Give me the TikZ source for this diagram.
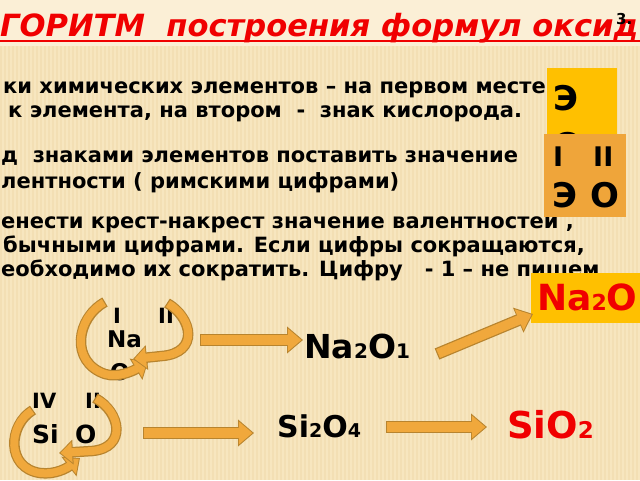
\documentclass[tikz,border=0pt]{standalone}
\usepackage{fontspec}
\setmainfont{DejaVu Sans}
\usetikzlibrary{arrows.meta}
\definecolor{bgc}{HTML}{F7E6BF}
\definecolor{topc}{HTML}{FBEFD6}
\definecolor{stripec}{HTML}{F3DFB4}
\definecolor{ybox}{HTML}{FFC000}
\definecolor{obox}{HTML}{EFA53A}
\definecolor{afill}{HTML}{F0A83C}
\definecolor{adark}{HTML}{B8842E}
\definecolor{redt}{HTML}{F00000}
\newcommand\lowdig[2]{{\fontsize{#1}{#1}\selectfont #2}}
\begin{document}
\begin{tikzpicture}[x=1pt,y=-1pt,
  txt/.style={anchor=base west, inner sep=0pt, font=\bfseries\fontsize{21}{22}\selectfont},
  big/.style={anchor=base west, inner sep=0pt, font=\bfseries\fontsize{#1}{#1}\selectfont},
  bout/.style={line width=12pt, draw=adark, -{Triangle[width=26pt,length=16pt]}},
  bin/.style={line width=9.5pt, draw=afill, shorten >=1.6pt, shorten <=1.2pt, -{Triangle[width=22pt,length=13.5pt]}},
  cout/.style={line width=10.5pt, draw=adark, -{Triangle[width=24pt,length=14pt]}},
  cin/.style={line width=8pt, draw=afill, shorten >=1.5pt, shorten <=1.2pt, -{Triangle[width=20pt,length=11.5pt]}}]
\useasboundingbox (0,0) rectangle (640,480);
% background
\fill[bgc] (0,0) rectangle (640,480);
\fill[topc] (0,0) rectangle (640,46);
\foreach \i in {0,4,...,636} \fill[stripec] (\i,46) rectangle ++(2,434);
% title
\node[anchor=base west, inner sep=0pt, text=redt, font=\bfseries\itshape\fontsize{30.6}{31}\selectfont] (title) at (0,36) {ГОРИТМ\ \ построения формул оксид};
\draw[redt, line width=1.5pt] (0,41) -- (640,41);
\node[anchor=base west, inner sep=0pt, font=\bfseries\fontsize{15}{15}\selectfont] (pnum) at (616,24) {3.};
% body text
\node[txt] (l1) at (3,93) {ки химических элементов – на первом месте};
\node[txt] (l2) at (8,117) {к элемента, на втором\ \ -\ \ знак кислорода.};
\node[txt] (l3) at (1,162) {д\ \ знаками элементов поставить значение};
\node[txt] (l4) at (1,188) {лентности ( римскими цифрами)};
\node[txt] (l5) at (1,228) {енести крест-накрест значение валентностей ,};
\node[txt] (l6) at (3,252) {бычными цифрами. Если цифры сокращаются,};
\node[txt] (l7) at (1,276) {еобходимо их сократить. Цифру\ \ \ - 1 – не пишем};
% yellow box E O
\fill[ybox] (547,68) rectangle (617,150);
\node[big=34] (ye) at (553,110) {Э};
\node[big=34] (yo) at (553,157) {О};
% orange box
\fill[obox] (544,134) rectangle (626,217);
\node[big=27] (r1) at (553,166) {I};
\node[big=27] (r2) at (593,166) {II};
\node[big=34] (be) at (552,207) {Э};
\node[big=34] (bo) at (590,207) {О};
% Na2O box
\fill[ybox] (531,273) rectangle (640,323);
\node[big=36, text=redt] (na2o) at (537,310) {Na\lowdig{22}{2}O};
% middle row
\node[big=21] (ni) at (113,323) {I};
\node[big=21] (nii) at (158,323) {II};
\node[big=23] (na) at (107,347) {Na};
\node[big=23] (no) at (110,380) {O};
\draw[cout] (105,302) .. controls (76,318) and (70,362) .. (105,374) .. controls (118,378) and (133,371) .. (148,362);
\draw[cin] (105,302) .. controls (76,318) and (70,362) .. (105,374) .. controls (118,378) and (133,371) .. (148,362);
\draw[cout] (167,303) .. controls (193,318) and (199,353) .. (162,356) -- (133,359);
\draw[cin] (167,303) .. controls (193,318) and (199,353) .. (162,356) -- (133,359);
\node[big=33] (na2o1) at (304,358) {Na\lowdig{20}{2}O\lowdig{20}{1}};
\coordinate (a1s) at (200,340);
\coordinate (a1e) at (303,340);
\draw[bout] (a1s) -- (a1e);
\draw[bin] (a1s) -- (a1e);
\coordinate (a2s) at (437,354);
\coordinate (a2e) at (533,314);
\draw[bout] (a2s) -- (a2e);
\draw[bin] (a2s) -- (a2e);
% bottom row
\node[big=21] (siv) at (32,408) {IV};
\node[big=21] (sii) at (85,408) {II};
\node[big=25] (si) at (32,443) {Si};
\node[big=25] (so) at (75,443) {O};
\draw[cout] (33,410) .. controls (8,425) and (6,468) .. (40,473) .. controls (55,475) and (67,468) .. (80,458);
\draw[cin] (33,410) .. controls (8,425) and (6,468) .. (40,473) .. controls (55,475) and (67,468) .. (80,458);
\draw[cout] (95,398) .. controls (121,412) and (127,448) .. (92,451) -- (59,453);
\draw[cin] (95,398) .. controls (121,412) and (127,448) .. (92,451) -- (59,453);
\coordinate (a3s) at (143,433);
\coordinate (a3e) at (254,433);
\draw[bout] (a3s) -- (a3e);
\draw[bin] (a3s) -- (a3e);
\node[big=30] (si2o4) at (277,437) {Si\lowdig{19}{2}O\lowdig{19}{4}};
\coordinate (a4s) at (386,427);
\coordinate (a4e) at (487,427);
\draw[bout] (a4s) -- (a4e);
\draw[bin] (a4s) -- (a4e);
\node[big=37, text=redt] (sio2) at (507,438) {SiO\lowdig{23}{2}};
\end{tikzpicture}
\end{document}
